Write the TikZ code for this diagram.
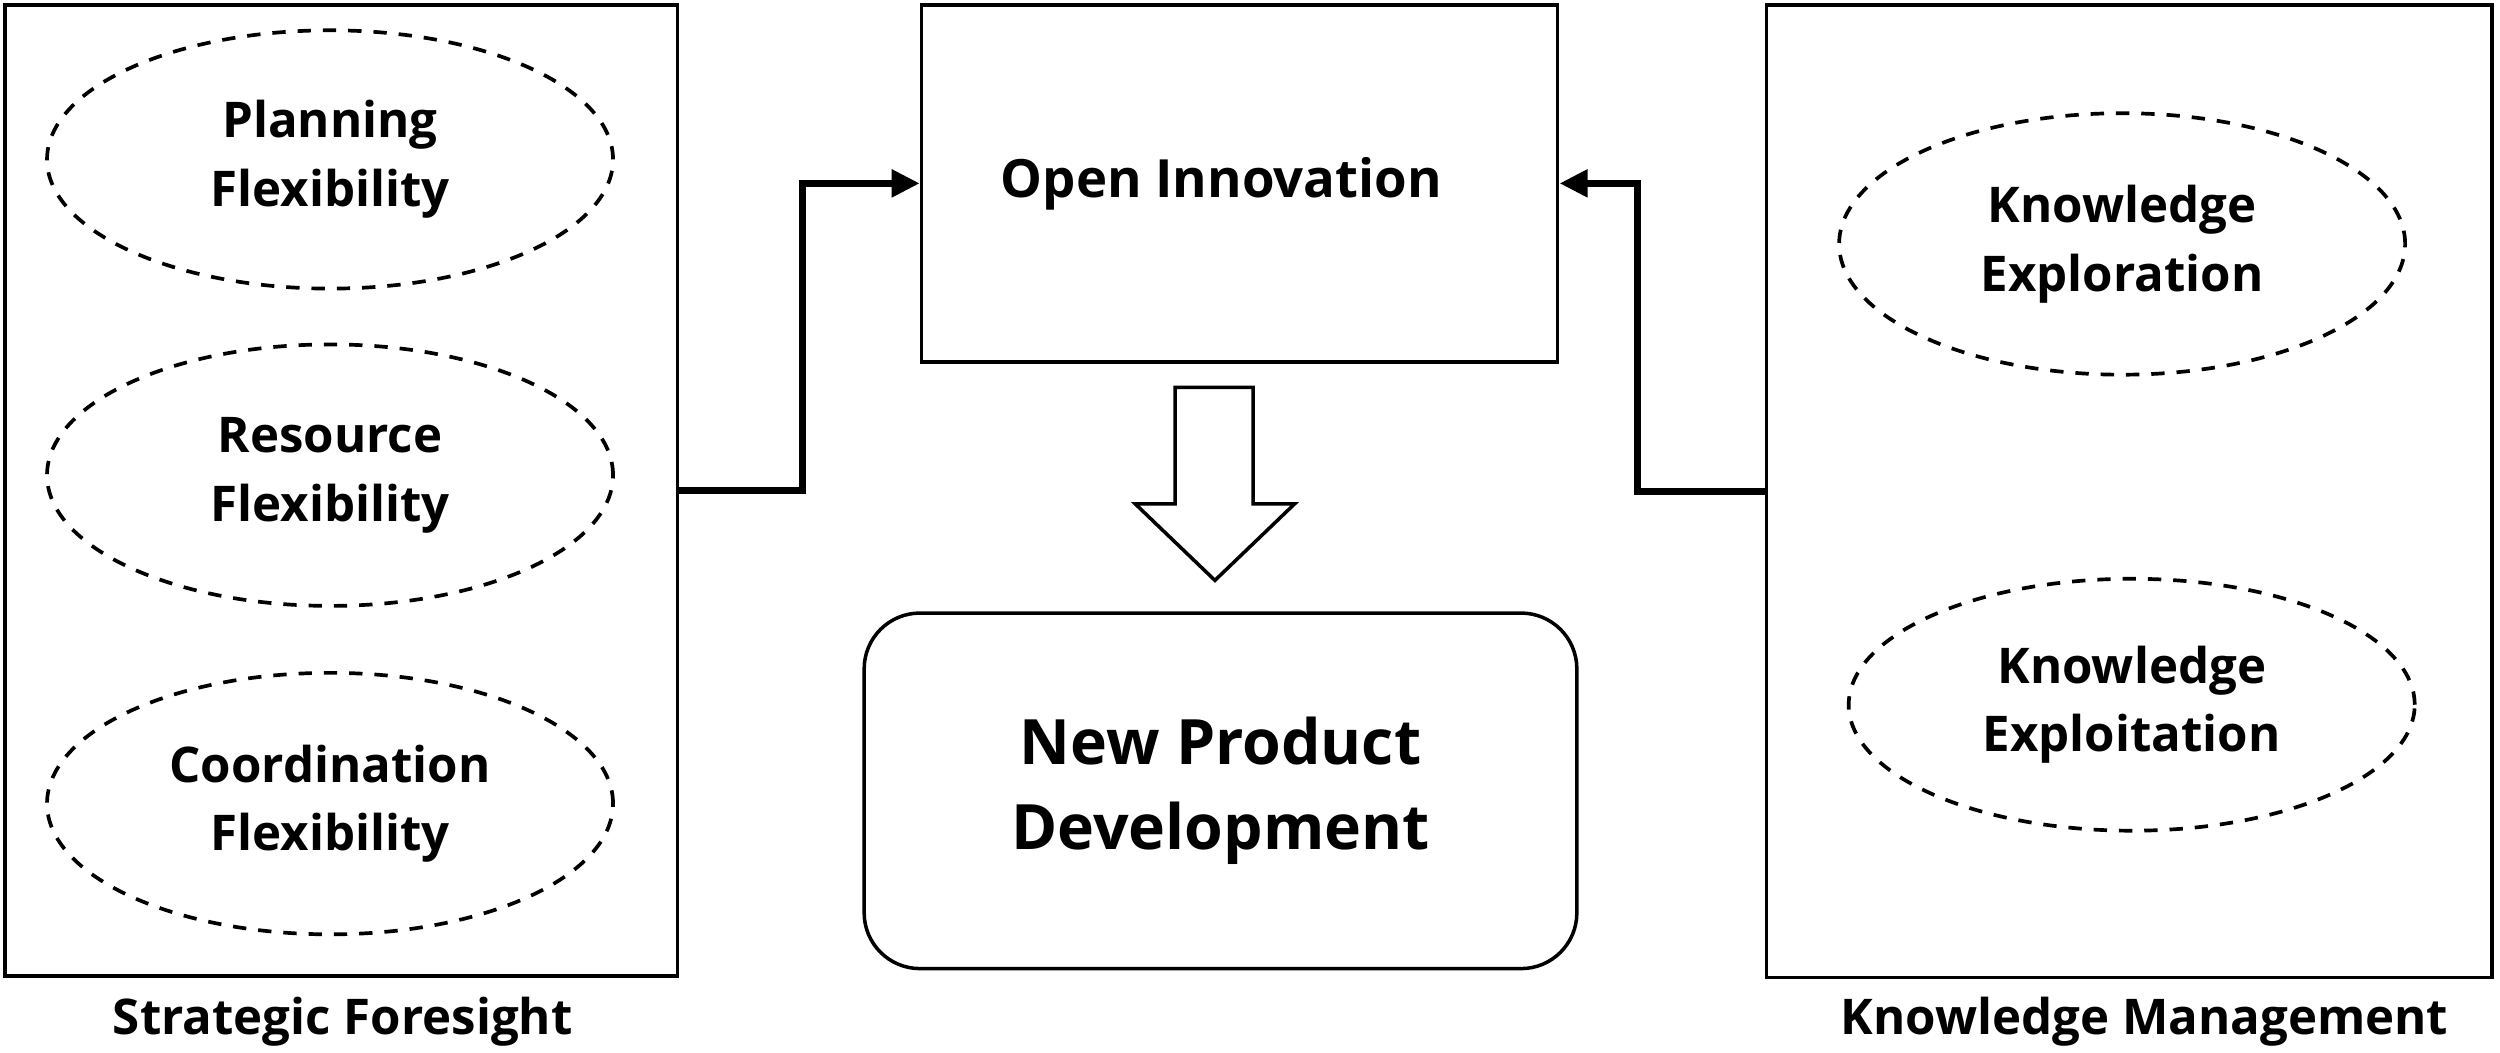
\documentclass[tikz,border=0pt]{standalone}
\usepackage{fontspec}
\setmainfont{Open Sans}
\usetikzlibrary{shapes.geometric,arrows.meta}
\def\U{0.015944cm}
\tikzset{
  frame/.style={draw, line width=1pt, inner sep=0pt},
  oval/.style={draw, ellipse, dash pattern=on 3.8pt off 3.4pt, line width=1.05pt, inner sep=0pt, align=center, font=\bfseries\fontsize{14}{19.5}\selectfont},
  conn/.style={line width=2pt, -{Triangle[length=8pt,width=7.5pt]}},
  biglabel/.style={font=\bfseries\fontsize{14}{18}\selectfont}
}
\begin{document}
\begin{tikzpicture}[x=0.015944cm, y=-0.015944cm]
\useasboundingbox (0,0) rectangle (1568,660);
% left group
\node[frame, minimum width=422*\U, minimum height=609*\U] (sf) at (214,307.5) {};
\node[oval, minimum width=355*\U, minimum height=162*\U] (pf) at (207,100) {Planning\\Flexibility};
\node[oval, minimum width=355*\U, minimum height=164*\U] (rf) at (207,298) {Resource\\Flexibility};
\node[oval, minimum width=355*\U, minimum height=164*\U] (cf) at (207,504) {Coordination\\Flexibility};
\node[biglabel] (sfl) at (215,641) {Strategic Foresight};
% center
\node[frame, minimum width=399*\U, minimum height=224*\U, font=\bfseries\fontsize{15}{18}\selectfont] (oi) at (777.5,115) {\hspace*{-0.367cm}Open Innovation};
\node[frame, rounded corners=35*\U, minimum width=447*\U, minimum height=223*\U, align=center, font=\bfseries\fontsize{17.8}{24}\selectfont] (npd) at (765.5,496) {New Product\\Development};
\draw[line width=1pt, line join=miter] (737,243) -- (786,243) -- (786,316) -- (812,316) -- (762,364) -- (712,316) -- (737,316) -- cycle;
% right group
\node[frame, minimum width=455*\U, minimum height=610*\U] (km) at (1335.5,308) {};
\node[oval, minimum width=355*\U, minimum height=164*\U] (ke) at (1331,153) {Knowledge\\Exploration};
\node[oval, minimum width=355*\U, minimum height=158*\U] (kx) at (1337,442) {Knowledge\\Exploitation};
\node[biglabel] (kml) at (1345,641) {Knowledge Management};
% connectors
\draw[conn] (sf.east) -- ++(77,0) |- (oi.west);
\draw[conn] (km.west) -- ++(-80,0) |- (oi.east);
\end{tikzpicture}
\end{document}
